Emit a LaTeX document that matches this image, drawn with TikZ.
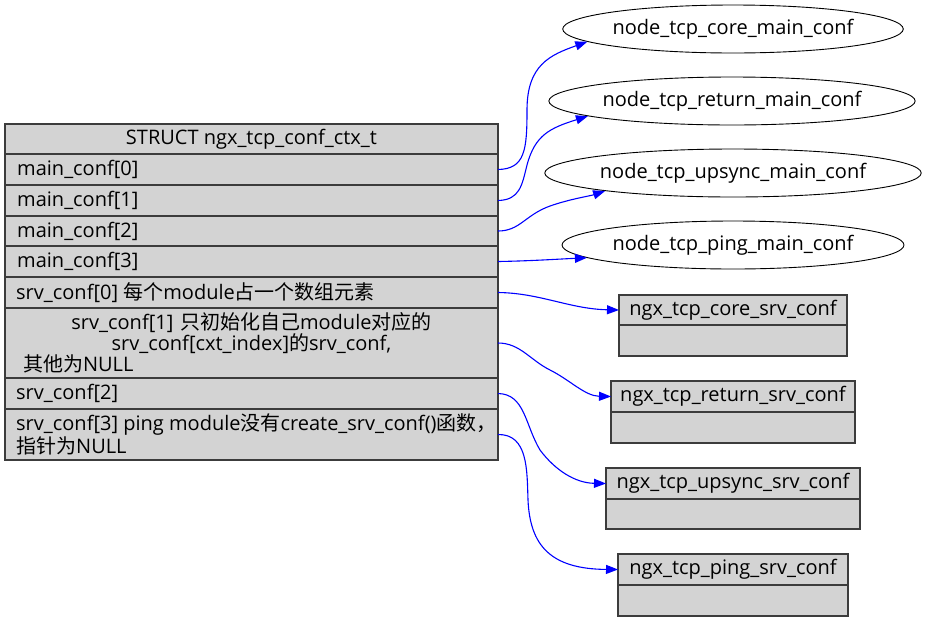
\documentclass[tikz,border=0pt]{standalone}
\usepackage{fontspec}
\setmainfont{Open Sans}
\newfontfamily\cjk{Noto Sans CJK SC}
\usetikzlibrary{arrows.meta,shapes.geometric}
\definecolor{cellgray}{RGB}{211,211,211}
\definecolor{edgeblue}{RGB}{0,0,255}
\definecolor{bordergray}{RGB}{60,60,60}
\newcommand\dgfont{\fontsize{20}{19.5}\selectfont}
\begin{document}
\begin{tikzpicture}[x=1pt,y=-1pt,
  cell/.style={draw=bordergray, fill=cellgray, line width=1.3pt, rectangle, inner sep=0pt, outer sep=0pt, anchor=north west},
  lbl/.style={inner sep=0pt, anchor=west, font=\dgfont},
  ell/.style={draw=black, ellipse, line width=0.9pt, inner sep=0pt, minimum height=48pt, font=\dgfont},
  link/.style={draw=edgeblue, line width=1.1pt, -{Triangle[length=12pt,width=9pt]}}]
\useasboundingbox (0,0) rectangle (925,622);

% main struct record
\node[cell, minimum width=493pt, minimum height=30pt] (hdr) at (5,124) {};
\node[cell, minimum width=493pt, minimum height=31pt] (m0) at (5,154) {};
\node[cell, minimum width=493pt, minimum height=31pt] (m1) at (5,185) {};
\node[cell, minimum width=493pt, minimum height=30pt] (m2) at (5,216) {};
\node[cell, minimum width=493pt, minimum height=31pt] (m3) at (5,246) {};
\node[cell, minimum width=493pt, minimum height=31pt] (s0) at (5,277) {};
\node[cell, minimum width=493pt, minimum height=70pt] (s1) at (5,308) {};
\node[cell, minimum width=493pt, minimum height=31pt] (s2) at (5,378) {};
\node[cell, minimum width=493pt, minimum height=51pt] (s3) at (5,409) {};

\node[inner sep=0pt, font=\dgfont] (thdr) at (hdr.center) {STRUCT ngx\_tcp\_conf\_ctx\_t};
\node[lbl] (tm0) at ([xshift=12pt]m0.west) {main\_conf[0]};
\node[lbl] (tm1) at ([xshift=12pt]m1.west) {main\_conf[1]};
\node[lbl] (tm2) at ([xshift=12pt]m2.west) {main\_conf[2]};
\node[lbl] (tm3) at ([xshift=12pt]m3.west) {main\_conf[3]};
\node[lbl] (ts0) at ([xshift=11pt]s0.west) {srv\_conf[0] {\cjk 每个}module{\cjk 占一个数组元素}};
\node[inner sep=0pt, font=\dgfont, align=center, text width=465pt] (ts1) at (s1.center)
  {srv\_conf[1] {\cjk 只初始化自己}module{\cjk 对应的}\\
   srv\_conf[cxt\_index]{\cjk 的}srv\_conf,\\
   \makebox[465pt][l]{\hspace{4pt}{\cjk 其他为}NULL}};
\node[lbl] (ts2) at ([xshift=11pt]s2.west) {srv\_conf[2]};
\node[lbl, align=left] (ts3) at ([xshift=11pt]s3.west)
  {srv\_conf[3] ping module{\cjk 没有}create\_srv\_conf(){\cjk 函数，}\\{\cjk 指针为}NULL};

% ellipses
\node[ell, minimum width=340pt] (e1) at (733,29) {node\_tcp\_core\_main\_conf};
\node[ell, minimum width=362pt] (e2) at (732,101) {node\_tcp\_return\_main\_conf};
\node[ell, minimum width=374pt] (e3) at (733,173) {node\_tcp\_upsync\_main\_conf};
\node[ell, minimum width=342pt] (e4) at (733,245) {node\_tcp\_ping\_main\_conf};

% srv conf records
\node[cell, minimum width=228pt, minimum height=30pt] (c1) at (619,295) {};
\node[cell, minimum width=228pt, minimum height=31pt] (c1b) at (619,325) {};
\node[inner sep=0pt, font=\dgfont] (tc1) at (c1.center) {ngx\_tcp\_core\_srv\_conf};
\node[cell, minimum width=244pt, minimum height=31pt] (c2) at (611,381) {};
\node[cell, minimum width=244pt, minimum height=31pt] (c2b) at (611,412) {};
\node[inner sep=0pt, font=\dgfont] (tc2) at (c2.center) {ngx\_tcp\_return\_srv\_conf};
\node[cell, minimum width=254pt, minimum height=31pt] (c3) at (606,468) {};
\node[cell, minimum width=254pt, minimum height=30pt] (c3b) at (606,499) {};
\node[inner sep=0pt, font=\dgfont] (tc3) at (c3.center) {ngx\_tcp\_upsync\_srv\_conf};
\node[cell, minimum width=230pt, minimum height=31pt] (c4) at (618,554) {};
\node[cell, minimum width=230pt, minimum height=31pt] (c4b) at (618,585) {};
\node[inner sep=0pt, font=\dgfont] (tc4) at (c4.center) {ngx\_tcp\_ping\_srv\_conf};

% edges
\draw[link] (m0.east) .. controls (525,169) and (527,150) .. (527,110)
  .. controls (527,65) and (550,55) .. (e1.185);
\draw[link] (m1.east) .. controls (520,200) and (522,185) .. (527,165)
  .. controls (535,135) and (550,128) .. (e2.186);
\draw[link] (m2.east) .. controls (520,231) and (525,215) .. (550,206)
  .. controls (570,199) and (590,196) .. (e3.188.6);
\draw[link] (m3.east) .. controls (530,261) and (560,259) .. (e4.185.2);
\draw[link] (s0.east) .. controls (540,293) and (570,309) .. (c1.west);
\draw[link] (s1.east) .. controls (520,343) and (530,360) .. (550,370)
  .. controls (570,380) and (585,396) .. (c2.west);
\draw[link] (s2.east) .. controls (525,394) and (525,425) .. (540,450)
  .. controls (555,470) and (575,483) .. (c3.west);
\draw[link] (s3.east) .. controls (528,434) and (527,470) .. (528,500)
  .. controls (530,545) and (550,569) .. (c4.west);
\end{tikzpicture}
\end{document}
